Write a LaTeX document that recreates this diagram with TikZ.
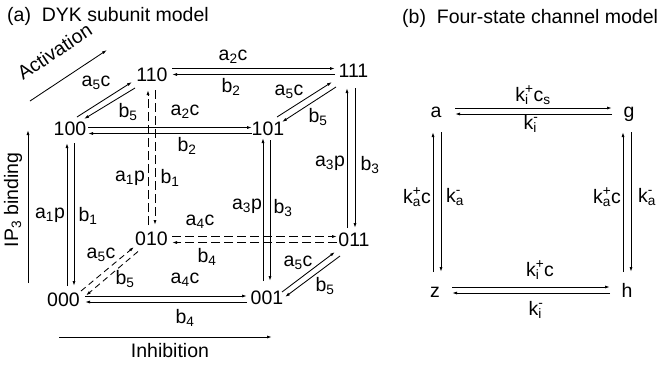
\documentclass[tikz,border=0pt]{standalone}
\usepackage{fontspec}
\setmainfont{Liberation Sans}
\usetikzlibrary{arrows.meta,calc}
\newcommand\supsub[2]{\setbox0\hbox{\textsuperscript{#1}}\setbox2\hbox{\textsubscript{#2}}\ifdim\wd0>\wd2\relax\rlap{\box2}\box0\else\rlap{\box0}\box2\fi}
\tikzset{
  every node/.style={inner sep=0pt},
  state/.style={inner sep=0pt},
  lab/.style={inner sep=0pt},
  tiptype/.style={-{Latex[length=5pt,width=3pt]}},
  rate/.style={tiptype, line width=0.85pt},
  ratedash/.style={rate, dash pattern=on 9pt off 4pt},
  ratedashdiag/.style={rate, dash pattern=on 6pt off 4pt},
  axisarrow/.style={tiptype, line width=0.85pt}
}
\begin{document}
\begin{tikzpicture}[x=1pt,y=-1pt,font=\fontsize{19.5}{22}\selectfont]
\useasboundingbox (0,0) rectangle (661,367);
% titles
\node[anchor=west] (ta) at (7,16) {(a)\ \ DYK subunit model};
\node[anchor=west] (tb) at (402,18.5) {(b)\ \ Four-state channel model};
% axis labels
\coordinate (actA) at (30,101);
\coordinate (actB) at (107,50);
\draw[axisarrow] (actA) -- (actB);
\node[rotate=33.5] (act) at (54.5,51.5) {Activation};
\coordinate (ipA) at (28,283);
\coordinate (ipB) at (28,130);
\draw[axisarrow] (ipA) -- (ipB);
\node[rotate=90] (ip) at (13,200) {IP\textsubscript{3} binding};
\coordinate (inA) at (59,337);
\coordinate (inB) at (272,337);
\draw[axisarrow] (inA) -- (inB);
\node (inh) at (170,351) {Inhibition};
% states
\node[state] (n110) at (152,74.5) {110};
\node[state] (n111) at (353.5,71) {111};
\node[state] (n100) at (70,129) {100};
\node[state] (n101) at (268,128.5) {101};
\node[state] (n010) at (151.5,239) {010};
\node[state] (n011) at (354,240) {011};
\node[state] (n000) at (63.5,300) {000};
\node[state] (n001) at (267,297.5) {001};
% 110 - 111
\draw[rate] ([shift={(20,-6)}]n110.center) -- ([shift={(-18.5,-2.5)}]n111.center);
\draw[rate] ([shift={(-18.5,3.5)}]n111.center) -- ([shift={(20,0)}]n110.center);
\node[lab] (l1) at (233,57) {a\textsubscript{2}c};
\node[lab] (l2) at (231,87) {b\textsubscript{2}};
% 100 - 101
\draw[rate] ([shift={(18,-1.5)}]n100.center) -- ([shift={(-16,-1)}]n101.center);
\draw[rate] ([shift={(-16,5)}]n101.center) -- ([shift={(18,4.5)}]n100.center);
\node[lab] (l3) at (185,112) {a\textsubscript{2}c};
\node[lab] (l4) at (187,146) {b\textsubscript{2}};
% 010 - 011
\draw[ratedash] ([shift={(20.5,-2.5)}]n010.center) -- ([shift={(-17,-3.5)}]n011.center);
\draw[ratedash] ([shift={(-17,2.5)}]n011.center) -- ([shift={(20.5,3.5)}]n010.center);
\node[lab] (l5) at (200,222) {a\textsubscript{4}c};
\node[lab] (l6) at (207,257) {b\textsubscript{4}};
% 000 - 001
\draw[rate] ([shift={(21.5,-4)}]n000.center) -- ([shift={(-20,-1.5)}]n001.center);
\draw[rate] ([shift={(-20,4.5)}]n001.center) -- ([shift={(21.5,2)}]n000.center);
\node[lab] (l7) at (185,280) {a\textsubscript{4}c};
\node[lab] (l8) at (185,318) {b\textsubscript{4}};
% 100 - 000
\draw[rate] ([shift={(3.5,-14)}]n000.center) -- ([shift={(-3,14)}]n100.center);
\draw[rate] ([shift={(4,14)}]n100.center) -- ([shift={(10.5,-14)}]n000.center);
\node[lab] (l9) at (50,215) {a\textsubscript{1}p};
\node[lab] (l10) at (88,216) {b\textsubscript{1}};
% 110 - 010
\draw[ratedash] ([shift={(-3.5,-14)}]n010.center) -- ([shift={(-4,15.5)}]n110.center);
\draw[ratedash] ([shift={(3,15.5)}]n110.center) -- ([shift={(3.5,-14)}]n010.center);
\node[lab] (l11) at (130,178) {a\textsubscript{1}p};
\node[lab] (l12) at (170,178) {b\textsubscript{1}};
% 101 - 001
\draw[rate] ([shift={(-4,-16.5)}]n001.center) -- ([shift={(-5,9.5)}]n101.center);
\draw[rate] ([shift={(2,11.5)}]n101.center) -- ([shift={(3,-16.5)}]n001.center);
\node[lab] (l13) at (247,206) {a\textsubscript{3}p};
\node[lab] (l14) at (283,208) {b\textsubscript{3}};
% 111 - 011
\draw[rate] ([shift={(-7,-12)}]n011.center) -- ([shift={(-6.5,17)}]n111.center);
\draw[rate] ([shift={(1.5,17)}]n111.center) -- ([shift={(1,-12)}]n011.center);
\node[lab] (l15) at (330,163) {a\textsubscript{3}p};
\node[lab] (l16) at (370,165) {b\textsubscript{3}};
% 100 - 110
\draw[rate] ([shift={(7,-12)}]n100.center) -- ([shift={(-20,7.5)}]n110.center);
\draw[rate] ([shift={(-17,13.5)}]n110.center) -- ([shift={(14,-10)}]n100.center);
\node[lab] (l17) at (96,83) {a\textsubscript{5}c};
\node[lab] (l18) at (128,112) {b\textsubscript{5}};
% 101 - 111
\draw[rate] ([shift={(9,-11.5)}]n101.center) -- ([shift={(-21.5,11)}]n111.center);
\draw[rate] ([shift={(-17.5,16)}]n111.center) -- ([shift={(14,-6.5)}]n101.center);
\node[lab] (l19) at (289,92) {a\textsubscript{5}c};
\node[lab] (l20) at (318,117) {b\textsubscript{5}};
% 000 - 010
\draw[ratedashdiag] ([shift={(17.5,-9)}]n000.center) -- ([shift={(-17.5,8)}]n010.center);
\draw[ratedashdiag] ([shift={(-13.5,12.5)}]n010.center) -- ([shift={(22.5,-4.5)}]n000.center);
\node[lab] (l21) at (101,255) {a\textsubscript{5}c};
\node[lab] (l22) at (125,279) {b\textsubscript{5}};
% 001 - 011
\draw[rate] ([shift={(15,-5.5)}]n001.center) -- ([shift={(-19,12)}]n011.center);
\draw[rate] ([shift={(-14,16)}]n011.center) -- ([shift={(18,-0.5)}]n001.center);
\node[lab] (l23) at (298,263) {a\textsubscript{5}c};
\node[lab] (l24) at (325,286) {b\textsubscript{5}};
% ---------- (b) ----------
\node[state,anchor=base] (na) at (436,117.5) {a};
\node[state,anchor=base] (ng) at (629,117.5) {g};
\node[state,anchor=base] (nz) at (435,297) {z};
\node[state,anchor=base] (nh) at (627,297) {h};
% a - g
\draw[rate] ([shift={(19,-9.5)}]na.base) -- ([shift={(-17,-9.5)}]ng.base);
\draw[rate] ([shift={(-17,-3.5)}]ng.base) -- ([shift={(19,-3.5)}]na.base);
\node[lab] (m1) at (533,95) {k\supsub{+}{i}c\textsubscript{s}};
\node[lab] (m2) at (531,124) {k\supsub{-}{i}};
% z - h
\draw[rate] ([shift={(17,-10)}]nz.base) -- ([shift={(-17,-10)}]nh.base);
\draw[rate] ([shift={(-17,-4)}]nh.base) -- ([shift={(17,-4)}]nz.base);
\node[lab] (m3) at (540,270) {k\supsub{+}{i}c};
\node[lab] (m4) at (536,310) {k\supsub{-}{i}};
% a - z
\draw[rate] ([shift={(-2,-25)}]nz.base) -- ([shift={(-3,14.5)}]na.base);
\draw[rate] ([shift={(5,14.5)}]na.base) -- ([shift={(6,-25)}]nz.base);
\node[lab] (m5) at (417,197) {k\supsub{+}{a}c};
\node[lab] (m6) at (455,197) {k\supsub{-}{a}};
% g - h
\draw[rate] ([shift={(-4,-25)}]nh.base) -- ([shift={(-6,14.5)}]ng.base);
\draw[rate] ([shift={(2,14.5)}]ng.base) -- ([shift={(4,-25)}]nh.base);
\node[lab] (m7) at (607,197) {k\supsub{+}{a}c};
\node[lab] (m8) at (647,197) {k\supsub{-}{a}};
\end{tikzpicture}
\end{document}
